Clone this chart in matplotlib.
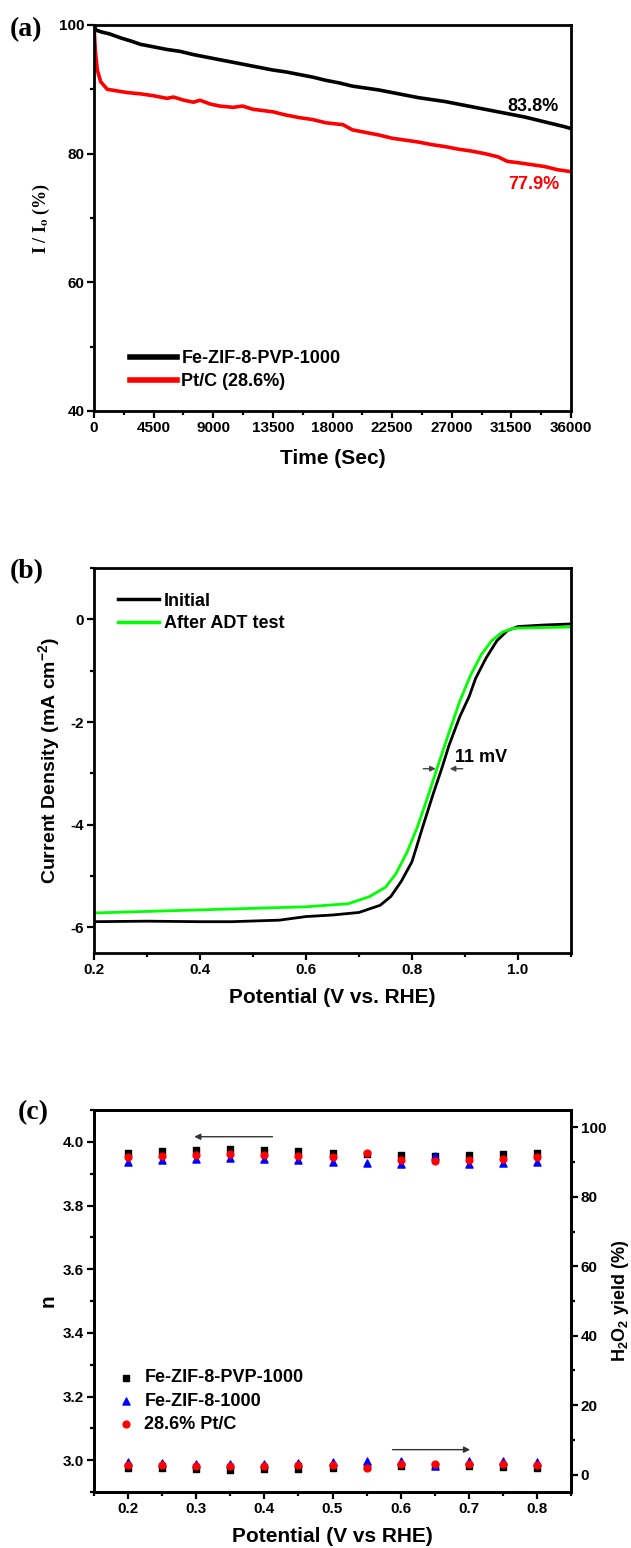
import matplotlib
matplotlib.use("Agg")
import matplotlib.pyplot as plt
from matplotlib.ticker import MultipleLocator

# ---------------- data ----------------
# (a) chronoamperometry
time_black = [0, 150, 600, 1200, 2000, 2800, 3500, 4500, 5500, 6500, 7500, 8500, 9500,
              10500, 11500, 12500, 13500, 14500, 15500, 16500, 17500, 18500, 19500,
              20500, 21500, 22500, 23500, 24500, 25500, 26500, 27500, 28500, 29500,
              30500, 31500, 32500, 33500, 34500, 35500, 36000]
ret_black = [100, 99.2, 98.9, 98.6, 98.0, 97.5, 97.0, 96.6, 96.2, 95.9, 95.4, 95.0, 94.6,
             94.2, 93.8, 93.4, 93.0, 92.7, 92.3, 91.9, 91.4, 91.0, 90.5,
             90.2, 89.9, 89.5, 89.1, 88.7, 88.4, 88.1, 87.7, 87.3, 86.9,
             86.5, 86.1, 85.7, 85.2, 84.7, 84.2, 83.9]
time_red = [0, 100, 250, 500, 1000, 1600, 2500, 3500, 4500, 5500, 6000, 6800, 7500, 8000,
            8800, 9500, 10500, 11200, 12000, 13500, 14500, 15500, 16500, 17500, 18800,
            19500, 20500, 21500, 22500, 23500, 24500, 25500, 26500, 27500, 28500, 29500,
            30500, 31200, 32000, 33000, 34000, 35000, 36000]
ret_red = [100, 96.0, 93.0, 91.2, 90.0, 89.8, 89.5, 89.3, 89.0, 88.6, 88.8, 88.3, 88.0, 88.3,
           87.7, 87.4, 87.2, 87.4, 86.9, 86.5, 86.0, 85.6, 85.3, 84.8, 84.5,
           83.7, 83.3, 82.9, 82.4, 82.1, 81.8, 81.4, 81.1, 80.7, 80.4, 80.0,
           79.5, 78.8, 78.6, 78.3, 78.0, 77.5, 77.2]
labels_a = ["Fe-ZIF-8-PVP-1000", "Pt/C (28.6%)"]

# (b) LSV before / after ADT
pot_init = [0.20, 0.30, 0.40, 0.46, 0.55, 0.60, 0.65, 0.70, 0.74, 0.76, 0.78, 0.80, 0.82,
            0.84, 0.856, 0.87, 0.89, 0.908, 0.92, 0.94, 0.96, 0.98, 1.00, 1.05, 1.10]
j_init = [-5.89, -5.88, -5.89, -5.89, -5.86, -5.79, -5.76, -5.71, -5.57, -5.40, -5.10, -4.72,
          -4.05, -3.40, -2.91, -2.45, -1.90, -1.50, -1.15, -0.75, -0.42, -0.22, -0.14, -0.11, -0.09]
pot_adt = [0.20, 0.30, 0.40, 0.50, 0.60, 0.68, 0.72, 0.75, 0.77, 0.79, 0.81, 0.83, 0.847,
           0.87, 0.89, 0.91, 0.93, 0.95, 0.97, 0.99, 1.00, 1.05, 1.10]
j_adt = [-5.72, -5.69, -5.66, -5.63, -5.60, -5.54, -5.40, -5.22, -4.95, -4.55, -4.05, -3.45,
         -2.91, -2.20, -1.60, -1.10, -0.70, -0.42, -0.25, -0.18, -0.17, -0.16, -0.15]
labels_b = ["Initial", "After ADT test"]

# (c) electron transfer number and H2O2 yield
pot_c = [0.20, 0.25, 0.30, 0.35, 0.40, 0.45, 0.50, 0.55, 0.60, 0.65, 0.70, 0.75, 0.80]
n_pvp = [3.966, 3.971, 3.974, 3.976, 3.974, 3.971, 3.966, 3.962, 3.958, 3.956, 3.958, 3.961, 3.966]
n_zif = [3.938, 3.943, 3.945, 3.948, 3.945, 3.942, 3.938, 3.932, 3.930, 3.954, 3.930, 3.934, 3.938]
n_pt = [3.951, 3.956, 3.960, 3.962, 3.960, 3.956, 3.951, 3.966, 3.943, 3.940, 3.943, 3.946, 3.951]
h2o2_pvp = [1.9, 1.8, 1.5, 1.4, 1.5, 1.7, 1.9, 2.1, 2.4, 2.5, 2.5, 2.2, 1.9]
h2o2_zif = [3.6, 3.3, 3.2, 3.1, 3.2, 3.3, 3.6, 3.8, 4.0, 2.6, 4.0, 3.9, 3.6]
h2o2_pt = [2.9, 2.7, 2.5, 2.4, 2.5, 2.7, 2.9, 1.9, 3.2, 3.2, 3.2, 3.1, 2.9]
labels_c = ["Fe-ZIF-8-PVP-1000", "Fe-ZIF-8-1000", "28.6% Pt/C"]

# ---------------- style ----------------
SANS = ["Liberation Sans", "DejaVu Sans"]
SERIF = ["Liberation Serif", "DejaVu Serif"]
plt.rcParams['font.family'] = SANS
plt.rcParams['font.weight'] = 'bold'
plt.rcParams['mathtext.fontset'] = 'custom'
plt.rcParams['mathtext.rm'] = 'Liberation Sans:bold'
plt.rcParams['mathtext.it'] = 'Liberation Sans:bold'
plt.rcParams['mathtext.bf'] = 'Liberation Sans:bold'

W, H = 631, 1548
fig = plt.figure(figsize=(W / 100, H / 100), dpi=100)


def box(l, r, t, b):
    return [l / W, (H - b) / H, (r - l) / W, (b - t) / H]


TICK = 11


def style(ax):
    for s in ax.spines.values():
        s.set_linewidth(2.0)
    ax.tick_params(which='major', direction='out', length=5, width=1.6, labelsize=TICK, pad=2)
    ax.tick_params(which='minor', direction='out', length=3, width=1.6)
    ax.tick_params(top=False, right=False, which='both')
    for lab in ax.get_xticklabels() + ax.get_yticklabels():
        lab.set_fontweight('bold')


# ---------------- (a) ----------------
ax1 = fig.add_axes(box(94, 571, 25, 411))
ax1.plot(time_black, ret_black, color='black', lw=2.6, label=labels_a[0])
ax1.plot(time_red, ret_red, color='#ff0000', lw=2.6, label=labels_a[1])
ax1.set_xlim(0, 36000)
ax1.set_ylim(40, 100)
ax1.xaxis.set_major_locator(MultipleLocator(4500))
ax1.xaxis.set_minor_locator(MultipleLocator(2250))
ax1.yaxis.set_major_locator(MultipleLocator(20))
ax1.yaxis.set_minor_locator(MultipleLocator(10))
style(ax1)
ax1.set_xlabel("Time (Sec)", fontsize=15, fontweight='bold', labelpad=10)
ax1.set_ylabel(r"I / I$_\mathbf{o}$ (%)", fontsize=13, fontweight='bold',
               family=SERIF, math_fontfamily='stix', labelpad=5)
ax1.text(33100, 87.3, "83.8%", fontsize=13, fontweight='bold', color='black', ha='center', va='center')
ax1.text(33200, 75.2, "77.9%", fontsize=13, fontweight='bold', color='#ff0000', ha='center', va='center')
leg = ax1.legend(loc='lower left', bbox_to_anchor=(0.06, 0.035), frameon=False, fontsize=13,
                 handlelength=2.6, handletextpad=0.25, labelspacing=0.35, borderaxespad=0)
for h in leg.get_lines():
    h.set_linewidth(4)
for t in leg.get_texts():
    t.set_fontweight('bold')
fig.text(10 / W, 1 - 30 / H, "(a)", fontsize=20, fontweight='bold', family=SERIF, va='center', ha='left')

# ---------------- (b) ----------------
ax2 = fig.add_axes(box(94, 571, 568, 953))
ax2.plot(pot_init, j_init, color='black', lw=2.0, label=labels_b[0])
ax2.plot(pot_adt, j_adt, color='#00ff00', lw=2.0, label=labels_b[1])
ax2.set_xlim(0.2, 1.1)
ax2.set_ylim(-6.5, 1.0)
ax2.xaxis.set_minor_locator(MultipleLocator(0.1))
ax2.yaxis.set_minor_locator(MultipleLocator(1))
ax2.set_xticks([0.2, 0.4, 0.6, 0.8, 1.0])
ax2.set_xticklabels(["0.2", "0.4", "0.6", "0.8", "1.0"])
ax2.set_yticks([-6, -4, -2, 0])
ax2.set_yticklabels(["-6", "-4", "-2", "0"])
style(ax2)
ax2.set_xlabel("Potential (V vs. RHE)", fontsize=15, fontweight='bold', labelpad=8)
ax2.set_ylabel(r"Current Density (mA cm$^{\mathregular{-2}}$)", fontsize=14, fontweight='bold',
               labelpad=6)
ax2.annotate("", xy=(0.850, -2.91), xytext=(0.816, -2.91),
             arrowprops=dict(arrowstyle='-|>', color='#444444', lw=1.0, mutation_scale=8))
ax2.annotate("", xy=(0.866, -2.91), xytext=(0.901, -2.91),
             arrowprops=dict(arrowstyle='-|>', color='#444444', lw=1.0, mutation_scale=8))
ax2.text(0.882, -2.7, "11 mV", fontsize=13, fontweight='bold', ha='left', va='center')
leg2 = ax2.legend(loc='upper left', bbox_to_anchor=(0.035, 0.955), frameon=False, fontsize=13,
                  handlelength=2.3, handletextpad=0.25, labelspacing=0.3, borderaxespad=0)
for h in leg2.get_lines():
    h.set_linewidth(2.5)
fig.text(10 / W, 1 - 572 / H, "(b)", fontsize=20, fontweight='bold', family=SERIF, va='center', ha='left')

# ---------------- (c) ----------------
ax3 = fig.add_axes(box(94, 571, 1110, 1492))
ax3.scatter(pot_c, n_pvp, marker='s', s=22, color='black', label=labels_c[0], zorder=3)
ax3.scatter(pot_c, n_zif, marker='^', s=26, color='#0000ff', label=labels_c[1], zorder=3)
ax3.scatter(pot_c, n_pt, marker='o', s=24, color='#ff0000', label=labels_c[2], zorder=3)
ax3.set_xlim(0.15, 0.85)
ax3.set_ylim(2.9, 4.1)
ax3.xaxis.set_minor_locator(MultipleLocator(0.05))
ax3.yaxis.set_minor_locator(MultipleLocator(0.1))
ax3.set_xticks([0.2, 0.3, 0.4, 0.5, 0.6, 0.7, 0.8])
ax3.set_xticklabels(["0.2", "0.3", "0.4", "0.5", "0.6", "0.7", "0.8"])
ax3.set_yticks([3.0, 3.2, 3.4, 3.6, 3.8, 4.0])
ax3.set_yticklabels(["3.0", "3.2", "3.4", "3.6", "3.8", "4.0"])
style(ax3)
ax3.set_xlabel("Potential (V vs RHE)", fontsize=15, fontweight='bold', labelpad=8)
ax3.set_ylabel("n", fontsize=15, fontweight='bold', labelpad=4)

ax4 = ax3.twinx()
ax4.scatter(pot_c, h2o2_pvp, marker='s', s=22, color='black', zorder=3)
ax4.scatter(pot_c, h2o2_zif, marker='^', s=26, color='#0000ff', zorder=3)
ax4.scatter(pot_c, h2o2_pt, marker='o', s=24, color='#ff0000', zorder=3)
ax4.set_ylim(-5, 105)
ax4.yaxis.set_major_locator(MultipleLocator(20))
ax4.yaxis.set_minor_locator(MultipleLocator(10))
for s in ax4.spines.values():
    s.set_linewidth(2.0)
ax4.tick_params(which='major', direction='out', length=5, width=1.6, labelsize=TICK, pad=2,
                right=True, left=False)
ax4.tick_params(which='minor', direction='out', length=3, width=1.6, right=True, left=False)
for lab in ax4.get_yticklabels():
    lab.set_fontweight('bold')
ax4.set_ylabel(r"H$_\mathregular{2}$O$_\mathregular{2}$ yield (%)", fontsize=13, fontweight='bold',
               labelpad=3)

ax3.annotate("", xy=(0.293, 4.016), xytext=(0.416, 4.016),
             arrowprops=dict(arrowstyle='-|>', color='#333333', lw=1.0, mutation_scale=9))
ax3.annotate("", xy=(0.706, 3.033), xytext=(0.584, 3.033),
             arrowprops=dict(arrowstyle='-|>', color='#333333', lw=1.0, mutation_scale=9))
leg3 = ax3.legend(loc='upper left', bbox_to_anchor=(0.03, 0.34), frameon=False, fontsize=13,
                  handlelength=1.2, handletextpad=0.4, labelspacing=0.35, borderaxespad=0,
                  scatterpoints=1)
fig.text(18 / W, 1 - 1113 / H, "(c)", fontsize=20, fontweight='bold', family=SERIF, va='center', ha='left')

fig.savefig("out.png", dpi=100)
